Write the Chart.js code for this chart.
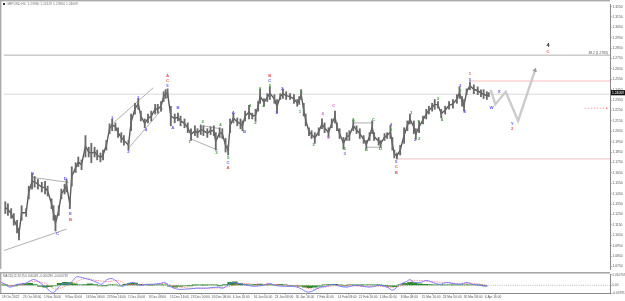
<!DOCTYPE html>
<html lang="en">
<head>
<meta charset="UTF-8">
<title>GBPUSD,H4</title>
<style>
    html, body { margin: 0; padding: 0; background: #fff; }
    .chartBox { position: absolute; left: 0; width: 625px; }
    #mainBox { top: 0; height: 273px; }
    #macdBox { top: 272px; height: 29px; }
</style>
</head>
<body>
<div class="chartBox" id="mainBox"><canvas id="mainChart" width="625" height="273"></canvas></div>
<div class="chartBox" id="macdBox"><canvas id="macdChart" width="625" height="29"></canvas></div>
<script src="https://cdn.jsdelivr.net/npm/chart.js"></script>
<script>
    // H4 bar number counted from 18 Oct 2022 00:00
    const priceBar = [-1,3,8,12,17,20,24,31,35,40,
        44,49,55,60,64,70,73,76,81,85,
        90,93,98,101,107,111,116,122,127,131,
        136,140,145,149,154,159,163,168,172,177,
        181,188,192,198,203,207,213,218,223,229,
        233,238,242,245,248,253,259,264,268,274,
        279,284,290,294,299,303,309,314,319,322,
        328,332,337,341,344,349,355,360,363,367,
        373,378,383,387,390,396,401,405,412,416,
        421,425,430,436,442,447,450,453,457,460,
        465,469,474,480,485,489,495,500,505,508,
        512,518,523,527,533,538,543,549,553,558,
        562,565,572,575,581,585,590,593,596,600,
        605,611,616,620,626,629,634,640,645,649,
        654,658,663,668,674,680,686,692,696,700,
        703,707,712,718,724,729,733,738,741];
    const priceHigh = [1.1372,1.1353,1.1306,1.1259,1.1194,1.1119,1.1334,1.1306,1.1522,1.1644,
        1.1616,1.1587,1.1559,1.1569,1.1522,1.1400,1.1334,1.1241,1.1334,1.1494,
        1.1541,1.1587,1.1400,1.1709,1.1747,1.1803,1.1775,1.2009,1.1897,1.1934,
        1.1897,1.1869,1.1841,1.1869,1.1962,1.2122,1.2169,1.2131,1.2084,1.2037,
        1.2009,1.1962,1.2216,1.2319,1.2366,1.2244,1.2169,1.2216,1.2244,1.2309,
        1.2309,1.2337,1.2431,1.2450,1.2459,1.2291,1.2216,1.2225,1.2197,1.2169,
        1.2131,1.2075,1.2103,1.2075,1.2112,1.2103,1.2075,1.2094,1.2103,1.2037,
        1.2084,1.2075,1.1981,1.1916,1.2169,1.2225,1.2178,1.2169,1.2150,1.2244,
        1.2300,1.2225,1.2262,1.2337,1.2459,1.2366,1.2412,1.2478,1.2403,1.2356,
        1.2412,1.2459,1.2431,1.2412,1.2403,1.2356,1.2384,1.2450,1.2319,1.2216,
        1.2084,1.2056,1.2037,1.2084,1.2169,1.2131,1.2084,1.2169,1.2244,1.2131,
        1.2075,1.1991,1.2037,1.2056,1.2150,1.2103,1.2075,1.2009,1.1962,1.2037,
        1.2150,1.2037,1.1991,1.1962,1.2028,1.2037,1.2103,1.1991,1.1869,1.1841,
        1.1916,1.2084,1.2150,1.2216,1.2150,1.2075,1.2150,1.2197,1.2262,1.2291,
        1.2319,1.2356,1.2337,1.2262,1.2291,1.2337,1.2356,1.2403,1.2478,1.2384,
        1.2356,1.2459,1.2525,1.2497,1.2478,1.2450,1.2450,1.2431,1.2422];
    const priceLow = [1.1259,1.1241,1.1212,1.1147,1.1072,1.1006,1.1194,1.1231,1.1400,1.1494,
        1.1512,1.1494,1.1466,1.1447,1.1428,1.1306,1.1194,1.1091,1.1241,1.1400,
        1.1447,1.1466,1.1306,1.1522,1.1653,1.1709,1.1681,1.1803,1.1803,1.1747,
        1.1803,1.1775,1.1756,1.1775,1.1869,1.2028,1.2056,1.2056,1.1991,1.1944,
        1.1916,1.1869,1.2056,1.2216,1.2262,1.2150,1.2084,1.2131,1.2150,1.2216,
        1.2225,1.2244,1.2337,1.2366,1.2375,1.2103,1.2131,1.2150,1.2103,1.2084,
        1.2037,1.1962,1.2009,1.1991,1.2019,1.2009,1.1991,1.2019,1.2009,1.1869,
        1.1991,1.1981,1.1850,1.1822,1.2037,1.2131,1.2103,1.2075,1.2056,1.2150,
        1.2169,1.2169,1.2150,1.2244,1.2319,1.2291,1.2337,1.2356,1.2319,1.2225,
        1.2356,1.2366,1.2356,1.2356,1.2319,1.2291,1.2309,1.2356,1.2197,1.2103,
        1.2009,1.1981,1.1934,1.2009,1.2075,1.2037,1.1991,1.2084,1.2131,1.2056,
        1.1981,1.1878,1.1962,1.1962,1.2056,1.2028,1.1981,1.1934,1.1887,1.1962,
        1.2028,1.1962,1.1916,1.1897,1.1962,1.1981,1.1981,1.1869,1.1794,1.1784,
        1.1822,1.1934,1.2056,1.2122,1.2028,1.1972,1.2037,1.2122,1.2169,1.2216,
        1.2244,1.2262,1.2272,1.2178,1.2216,1.2262,1.2272,1.2319,1.2366,1.2291,
        1.2244,1.2403,1.2450,1.2412,1.2403,1.2384,1.2366,1.2356,1.2384];

    // projected path W-X-Y and the arrow
    const projBar = [744, 751, 767, 786, 812];
    const projPrice = [1.2450, 1.2309, 1.2431, 1.2150, 1.2638];

    // trend lines: start bar, start price, end bar, end price
    const trendFromBar = [-3, 41, 165, 188, 282, 302, 533, 553];
    const trendFromPrice = [1.0903, 1.1606, 1.2131, 1.1887, 1.1981, 1.2103, 1.2131, 1.1897];
    const trendToBar = [93, 96, 226, 241, 325, 329, 564, 576];
    const trendToPrice = [1.1109, 1.1559, 1.2469, 1.2272, 1.1869, 1.2075, 1.2131, 1.1897];

    const bidPrice = 1.24069;
    const fibLevel = 1.2783;
    const fibText = '38.2 (1.2783)';
    const redLevelBar = [712, 600];
    const redLevelPrice = [1.2534, 1.1784];
    const arrowBar = [888, 922];
    const arrowPrice = 1.2272;

    // wave labels
    const waveText = ['B','D','E','B','C','1','3','2','4','A','C','5',
        'B','A','1','2','3','4','5','C','A','A','B','1','2','3','4','B','C','5',
        '1','2','2','1','3','4','5','C','5','3','A','C','B','D','4','5',
        '5','C','B','1','1','2','2','3','4','3','5','4','1','5','W','X','Y','2','4','C'];
    const waveBar = [41,91,99,99,79,163,203,188,215,248,248,248,
        264,256,282,302,323,329,341,341,341,349,366,375,383,390,395,405,405,405,
        415,424,453,451,472,486,495,503,520,520,533,564,553,575,591,591,
        599,599,599,622,633,628,634,663,669,697,697,704,712,712,745,757,777,777,832,832];
    const wavePrice = [1.1644,1.1597,1.1259,1.1203,1.1062,1.2178,1.2375,1.1850,1.2066,1.2581,1.2534,1.2488,
        1.2272,1.2084,1.1944,1.2141,1.1841,1.2112,1.1794,1.1747,1.1700,1.2225,1.2047,1.2300,1.2131,1.2459,1.2291,1.2581,1.2534,1.2488,
        1.2225,1.2459,1.2431,1.2234,1.1916,1.2216,1.1991,1.2300,1.1878,1.1831,1.2159,1.2159,1.1869,1.1878,1.2112,1.2066,
        1.1756,1.1709,1.1653,1.2225,1.2141,1.1972,1.1981,1.2366,1.2159,1.2488,1.2441,1.2234,1.2600,1.2544,1.2272,1.2431,1.2122,1.2075,1.2872,1.2816];
    const waveDegree = ['minor','minor','minor','inter','minor','minor','minor','minor','minor','inter','inter','minor',
        'minor','minor','minute','minute','minute','minute','minute','minor','inter','minor','minor','minute','minute','minute','minute','inter','minor','minute',
        'minor','minor','minute','minute','minute','minuette','minuette','minuette','minute','minor','minute','minute','minute','minute','minor','minute',
        'minor','inter','inter','minor','minute','minor','minute','minute','minute','minor','minute','minor','inter','minor','minor','minor','minor','inter','primary','inter'];

    const priceTicks = [1.0750,1.0850,1.0950,1.1050,1.1150,1.1250,1.1350,1.1450,1.1550,1.1650,
        1.1750,1.1850,1.1950,1.2050,1.2150,1.2250,1.2350,1.2450,1.2550,1.2650,
        1.2750,1.2850,1.2950,1.3050,1.3150,1.3250];

    const timeBars = [0,32,64,96,128,160,192,224,256,288,320,352,384,416,448,480,512,544,576,608,640,672,704,736];
    const timeLabels = ['18 Oct 2022','25 Oct 08:00','1 Nov 16:00','9 Nov 00:00','16 Nov 08:00','23 Nov 16:00',
        '1 Dec 00:00','8 Dec 08:00','15 Dec 16:00','23 Dec 00:00','30 Dec 08:00','6 Jan 16:00',
        '16 Jan 00:00','23 Jan 08:00','30 Jan 16:00','7 Feb 00:00','14 Feb 08:00','21 Feb 16:00',
        '1 Mar 00:00','8 Mar 08:00','15 Mar 16:00','23 Mar 00:00','30 Mar 08:00','6 Apr 16:00'];

    // MACD(12,26,9) window
    const macdBar = [-3,5,12,23,35,47,53,63,73,78,
        85,93,101,107,114,122,134,145,152,160,
        168,175,183,190,200,210,221,230,241,248,
        256,267,282,297,312,328,337,348,352,367,
        383,398,408,416,428,444,454,465,474,485,
        495,504,515,526,538,550,561,576,587,596,
        607,617,622,629,637,648,657,668,678,687,
        698,709,718,729,739];
    const macdMain = [0.0039,0.0010,-0.0019,0.0010,0.0019,0.0058,0.0049,0,-0.0058,-0.0078,
        -0.0029,0.0019,0.0010,0.0039,0.0088,0.0078,0.0058,0.0029,0.0010,0.0058,
        0.0068,0.0039,-0.0010,0.0010,0.0029,0,0.0010,0.0010,0.0019,0.0029,
        -0.0010,-0.0039,-0.0039,-0.0029,-0.0029,-0.0019,-0.0029,0.0019,0.0029,0.0010,
        -0.0010,0,0.0019,0,-0.0010,-0.0010,-0.0029,-0.0068,-0.0058,-0.0019,
        -0.0010,0.0010,-0.0010,-0.0019,0,-0.0010,-0.0019,0,-0.0019,-0.0049,
        0.0010,0.0039,0.0058,0.0029,0.0029,0.0049,0.0029,0.0010,0.0029,0.0019,
        0.0010,0.0029,0.0010,0,-0.0010];
    const signalBar = [-3,12,27,47,66,81,93,111,127,145,162,177,191,210,233,248,264,287,325,348,
        363,386,408,431,454,474,492,515,546,576,599,614,629,652,675,698,721,739];
    const signalLine = [0.0029,0,0,0.0039,0.0019,-0.0039,-0.0019,0.0029,0.0068,0.0049,
        0.0039,0.0049,0.0010,0.0010,0.0010,0.0019,-0.0010,-0.0029,-0.0029,-0.0010,
        0.0019,0.0010,0.0010,0,-0.0010,-0.0039,-0.0019,0,-0.0010,-0.0010,
        -0.0019,0.0010,0.0049,0.0039,0.0029,0.0019,0.0019,0];
    const histBar = [-3,5,12,20,27,35,43,50,58,66,
        73,81,88,96,104,111,119,127,134,142,
        149,157,165,172,180,188,195,203,210,218,
        226,233,241,248,256,264,271,279,287,294,
        302,309,317,325,332,340,348,355,363,370,
        378,386,393,401,408,416,424,431,439,447,
        454,462,469,477,485,492,500,508,515,523,
        530,538,546,553,561,569,576,584,591,599,
        607,614,622,629,637,645,652,660,668,675,
        683,690,698,706,713,721,729,736];
    const histValue = [0.0005,0.0002,-0.0005,-0.0003,0.0008,0.0018,0.0020,0.0008,-0.0012,-0.0018,
        -0.0015,-0.0005,0.0020,0.0030,0.0028,0.0015,0.0005,0.0008,0.0015,0.0008,
        -0.0005,-0.0003,0.0005,0.0003,-0.0005,0.0010,0.0020,0.0022,0.0010,0.0003,
        0.0002,0.0005,0.0006,0.0004,-0.0010,-0.0018,-0.0012,-0.0006,-0.0003,0.0002,
        0.0003,0.0002,0.0005,0.0004,-0.0003,0.0008,0.0030,0.0035,0.0020,0.0008,
        0.0003,0.0010,0.0012,0.0005,0.0008,0.0003,0.0010,0.0005,-0.0002,-0.0005,
        -0.0010,-0.0020,-0.0025,-0.0020,-0.0008,0.0003,0.0008,0.0010,0.0003,-0.0003,
        0.0003,0.0005,0.0002,0.0003,0.0006,0.0003,0.0002,-0.0003,-0.0012,-0.0015,
        0.0005,0.0020,0.0030,0.0025,0.0015,0.0010,0.0008,0.0005,0.0003,0.0006,
        0.0005,0.0004,0.0005,0.0006,0.0004,0.0003,0.0002,-0.0002];
    const macdTicks = [0.0107, 0, -0.0079];
    const macdTickLabels = ['0.010707', '0.00', '-0.007911'];
    const macdHeader = 'MACD(12,26,9) 0.000449 -0.000290 -0.000739';
    const titleText = 'GBPUSD,H4  1.23980 1.24129 1.23960 1.24069';

    const xMin = -3, xMax = 927;
    const FONT = '"Liberation Sans", Arial, sans-serif';
    const degreeColor = {primary: '#222222', inter: '#e25858', minor: '#5c5cf2', minute: '#3f9a3f', minuette: '#d264d2'};

    function seg(b1, p1, b2, p2) { return [{x: b1, y: p1}, {x: b2, y: p2}]; }
    function thinLine(data, color, extra) {
        return Object.assign({type: 'line', data: data, borderColor: color, borderWidth: 0.7,
            pointRadius: 0, order: 3}, extra || {});
    }

    const mainSets = [
        {
            type: 'bar',
            label: 'GBPUSD',
            data: priceBar.map((b, i) => ({x: b, y: [priceLow[i], priceHigh[i]]})),
            backgroundColor: '#6a6a6a',
            barThickness: 1.2,
            grouped: false,
            order: 1
        },
        {
            // body of the H4 candles, middle of each range
            type: 'line',
            data: priceBar.map((b, i) => ({x: b, y: (priceLow[i] + priceHigh[i]) / 2})),
            borderColor: '#5a5a5a',
            borderWidth: 1.4,
            pointRadius: 0,
            order: 1
        },
        thinLine(seg(xMin, bidPrice, xMax, bidPrice), '#c8c8c8'),
        thinLine(seg(xMin, fibLevel, xMax, fibLevel), '#8a8a8a'),
        {
            type: 'line',
            data: projBar.map((b, i) => ({x: b, y: projPrice[i]})),
            borderColor: '#cbcbcb',
            borderWidth: 2.4,
            pointRadius: [0, 0, 0, 0, 2.6],
            pointStyle: 'triangle',
            rotation: 18,
            pointBackgroundColor: '#9a9a9a',
            pointBorderWidth: 0,
            order: 0
        },
        thinLine(arrowBar.map(b => ({x: b, y: arrowPrice})), '#f08c8c',
            {borderDash: [1.5, 1.5], pointRadius: [0, 1.4], pointStyle: 'triangle', rotation: 90,
             pointBackgroundColor: '#f08c8c', pointBorderWidth: 0})
    ];
    redLevelBar.forEach((b, i) => {
        mainSets.push(thinLine(seg(b, redLevelPrice[i], xMax, redLevelPrice[i]), '#f2a0a0'));
    });
    trendFromBar.forEach((b, i) => {
        mainSets.push(thinLine(seg(b, trendFromPrice[i], trendToBar[i], trendToPrice[i]), '#8c8c8c'));
    });

    const mainOverlay = {
        id: 'mainOverlay',
        afterDatasetsDraw(chart) {
            const {ctx, scales: {x, y}, chartArea} = chart;
            ctx.save();
            ctx.textAlign = 'center';
            ctx.textBaseline = 'middle';
            waveText.forEach((t, i) => {
                const big = waveDegree[i] === 'primary';
                ctx.font = (big ? 'bold 5.5px ' : 'bold 4.3px ') + FONT;
                ctx.fillStyle = degreeColor[waveDegree[i]];
                ctx.fillText(t, x.getPixelForValue(waveBar[i]), y.getPixelForValue(wavePrice[i]));
            });
            // fib level caption
            ctx.font = '3.3px ' + FONT;
            ctx.fillStyle = '#555';
            ctx.textAlign = 'right';
            ctx.textBaseline = 'bottom';
            ctx.fillText(fibText, chartArea.right - 2, y.getPixelForValue(fibLevel) - 0.3);
            // symbol line
            ctx.textAlign = 'left';
            ctx.textBaseline = 'middle';
            ctx.fillStyle = '#333';
            ctx.fillRect(3, 3, 2, 2);
            ctx.fillStyle = '#777';
            ctx.fillText(titleText, 6.5, 4.2);
            ctx.restore();
        },
        afterDraw(chart) {
            const {ctx, scales: {y}, chartArea} = chart;
            ctx.save();
            ctx.fillStyle = '#ababab';
            ctx.fillRect(0, 0, chartArea.right, 1.4);
            ctx.fillRect(0, 0, 1.4, chartArea.bottom);
            // bid price box on the price scale
            const py = y.getPixelForValue(bidPrice) - 1.5;
            ctx.fillStyle = '#111';
            ctx.fillRect(chartArea.right + 1, py - 2.6, 14, 5.2);
            ctx.fillStyle = '#fff';
            ctx.font = '3.3px ' + FONT;
            ctx.textAlign = 'left';
            ctx.textBaseline = 'middle';
            ctx.fillText(bidPrice.toFixed(5), chartArea.right + 2, py);
            ctx.restore();
        }
    };

    const mainChart = new Chart(document.getElementById('mainChart'), {
        type: 'bar',
        data: {datasets: mainSets},
        options: {
            responsive: false,
            animation: false,
            layout: {padding: 0},
            plugins: {legend: {display: false}, tooltip: {enabled: false}},
            scales: {
                x: {type: 'linear', min: xMin, max: xMax, offset: false, display: false},
                y: {
                    position: 'right',
                    min: 1.0725,
                    max: 1.3275,
                    afterFit(s) { s.width = 15; },
                    afterBuildTicks(s) { s.ticks = priceTicks.map(v => ({value: v})); },
                    ticks: {
                        font: {size: 3.3, family: FONT},
                        color: '#555',
                        padding: 1,
                        callback: v => v.toFixed(4)
                    },
                    grid: {drawOnChartArea: false, tickLength: 1.5, color: '#777'},
                    border: {color: '#8a8a8a', width: 1}
                }
            }
        },
        plugins: [mainOverlay]
    });

    const macdOverlay = {
        id: 'macdOverlay',
        afterDraw(chart) {
            const {ctx, chartArea} = chart;
            ctx.save();
            ctx.fillStyle = '#a8a8a8';
            ctx.fillRect(0, 0, chartArea.right, 1.6);
            ctx.fillRect(0, 0, 1.4, chartArea.bottom);
            ctx.fillStyle = '#666';
            ctx.font = '3.1px ' + FONT;
            ctx.textAlign = 'left';
            ctx.textBaseline = 'middle';
            ctx.fillText(macdHeader, 3, 4.2);
            ctx.restore();
        }
    };

    const macdChart = new Chart(document.getElementById('macdChart'), {
        type: 'bar',
        data: {
            datasets: [
                {
                    type: 'line',
                    data: macdBar.map((b, i) => ({x: b, y: macdMain[i]})),
                    borderColor: '#7070ff',
                    borderWidth: 0.9,
                    pointRadius: 0,
                    tension: 0.35,
                    order: 0
                },
                {
                    type: 'line',
                    data: signalBar.map((b, i) => ({x: b, y: signalLine[i]})),
                    borderColor: '#ff7a7a',
                    borderWidth: 0.8,
                    borderDash: [1.5, 1],
                    pointRadius: 0,
                    tension: 0.35,
                    order: 1
                },
                {
                    type: 'line',
                    data: seg(xMin, 0, xMax, 0),
                    borderColor: '#9a9a9a',
                    borderWidth: 0.7,
                    borderDash: [1, 1.2],
                    pointRadius: 0,
                    order: 3
                },
                {
                    type: 'bar',
                    data: histBar.map((b, i) => ({x: b, y: histValue[i]})),
                    backgroundColor: '#2f8a2f',
                    barThickness: 5,
                    grouped: false,
                    order: 2
                }
            ]
        },
        options: {
            responsive: false,
            animation: false,
            layout: {padding: {top: 1, left: 0, right: 0, bottom: 0}},
            plugins: {legend: {display: false}, tooltip: {enabled: false}},
            scales: {
                x: {
                    type: 'linear',
                    min: xMin,
                    max: xMax,
                    offset: false,
                    afterFit(s) { s.height = 8; },
                    afterBuildTicks(s) { s.ticks = timeBars.map(v => ({value: v})); },
                    ticks: {
                        autoSkip: false,
                        maxRotation: 0,
                        align: 'start',
                        font: {size: 3.2, family: FONT},
                        color: '#555',
                        padding: 0.5,
                        callback: (v, i) => timeLabels[i]
                    },
                    grid: {drawOnChartArea: false, tickLength: 1.5, color: '#777'},
                    border: {color: '#8a8a8a'}
                },
                y: {
                    position: 'right',
                    min: -0.0079,
                    max: 0.0107,
                    afterFit(s) { s.width = 15; },
                    afterBuildTicks(s) { s.ticks = macdTicks.map(v => ({value: v})); },
                    ticks: {
                        font: {size: 3.1, family: FONT},
                        color: '#555',
                        padding: 1,
                        callback: (v, i) => macdTickLabels[i]
                    },
                    grid: {drawOnChartArea: false, tickLength: 1.5, color: '#777'},
                    border: {color: '#8a8a8a'}
                }
            }
        },
        plugins: [macdOverlay]
    });
</script>
</body>
</html>
